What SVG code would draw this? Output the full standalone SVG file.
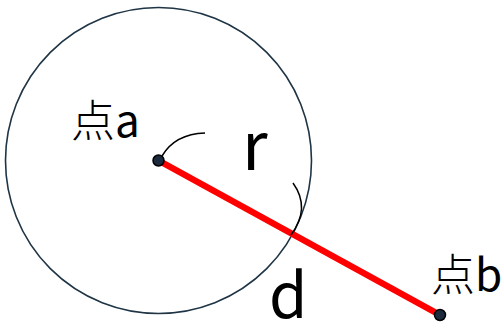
<svg xmlns="http://www.w3.org/2000/svg" width="504" height="327" viewBox="0 0 504 327">
<style>
.lbl{font-family:"Noto Sans CJK JP","Noto Sans",sans-serif;fill:#000}
.cjk{font-weight:300}
.arc{fill:none;stroke:#000;stroke-width:1.5}
.pt{fill:#1b2b3d;stroke:#000;stroke-width:1.5}
</style>
<rect width="504" height="327" fill="#fff"/>
<g id="circle"><circle cx="158.5" cy="160.5" r="153" fill="none" stroke="#1f3545" stroke-width="1.6"/></g>
<g id="connectors">
<line x1="158.5" y1="160.5" x2="440" y2="315" stroke="#ff0000" stroke-width="6.5"/>
</g>
<g id="arcs">
<path class="arc" d="M162,156 Q175,134 205,133"/>
<path class="arc" d="M293,183 Q311,208 291,235"/>
</g>
<g id="pointA"><circle class="pt" cx="158.5" cy="160.5" r="5.5"/><text class="lbl" x="71" y="137" font-size="44"><tspan class="cjk">点</tspan>a</text></g>
<g id="pointB"><circle class="pt" cx="440" cy="315" r="5.5"/><text class="lbl" x="431" y="291" font-size="44"><tspan class="cjk">点</tspan>b</text></g>
<g id="labelR"><text class="lbl" x="242" y="170" font-size="66">r</text></g>
<g id="labelD"><text class="lbl" x="269" y="318" font-size="62">d</text></g>
</svg>
